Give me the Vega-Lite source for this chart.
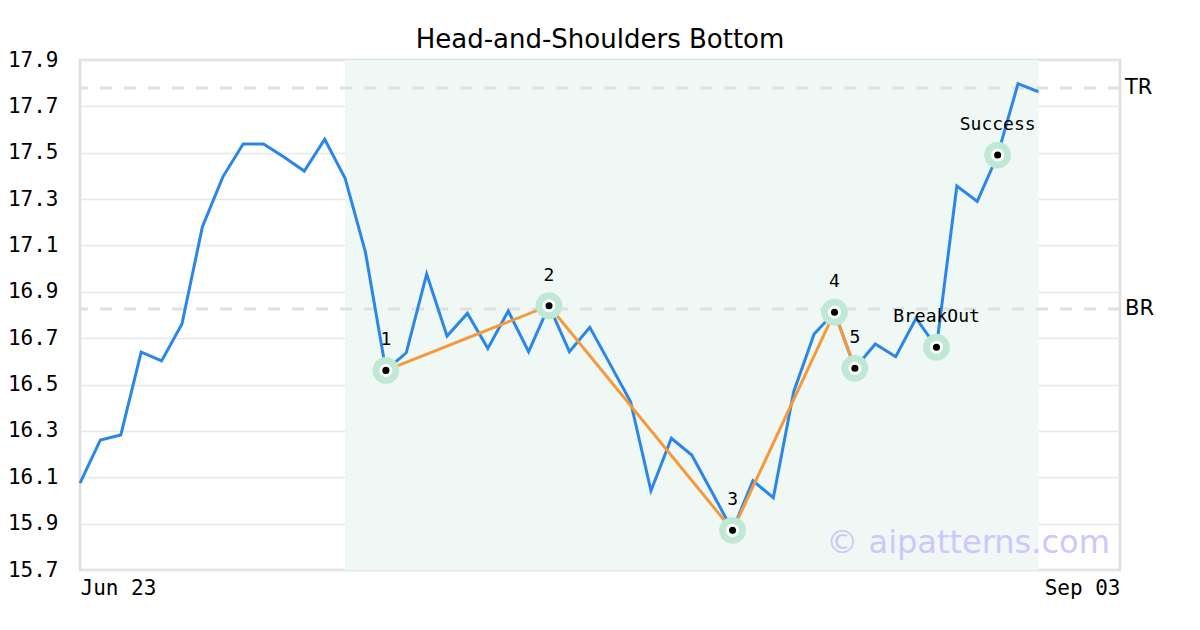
{
  "$schema": "https://vega.github.io/schema/vega-lite/v6.json",
  "width": 1040,
  "height": 510,
  "autosize": "none",
  "padding": {"left": 80, "top": 60, "right": 80, "bottom": 60},
  "background": "white",
  "title": {"text": "Head-and-Shoulders Bottom", "font": "DejaVu Sans", "fontSize": 26, "fontWeight": "normal", "color": "#000000", "anchor": "middle", "frame": "group", "offset": -4},
  "config": {
    "view": {"stroke": "#dddddd", "strokeWidth": 2.5},
    "axis": {"labelFont": "DejaVu Sans Mono", "labelFontSize": 21, "labelColor": "#000000", "domain": false, "ticks": false, "title": null}
  },
  "datasets": {
    "prices": [
      {"i": 0, "close": 16.075}, {"i": 1, "close": 16.261}, {"i": 2, "close": 16.282}, {"i": 3, "close": 16.640},
      {"i": 4, "close": 16.602}, {"i": 5, "close": 16.761}, {"i": 6, "close": 17.180}, {"i": 7, "close": 17.395},
      {"i": 8, "close": 17.538}, {"i": 9, "close": 17.538}, {"i": 10, "close": 17.482}, {"i": 11, "close": 17.421},
      {"i": 12, "close": 17.558}, {"i": 13, "close": 17.390}, {"i": 14, "close": 17.070}, {"i": 15, "close": 16.561},
      {"i": 16, "close": 16.637}, {"i": 17, "close": 16.977}, {"i": 18, "close": 16.709}, {"i": 19, "close": 16.807},
      {"i": 20, "close": 16.656}, {"i": 21, "close": 16.817}, {"i": 22, "close": 16.642}, {"i": 23, "close": 16.840},
      {"i": 24, "close": 16.642}, {"i": 25, "close": 16.747}, {"i": 26, "close": 16.587}, {"i": 27, "close": 16.426},
      {"i": 28, "close": 16.042}, {"i": 29, "close": 16.268}, {"i": 30, "close": 16.196}, {"i": 31, "close": 16.034},
      {"i": 32, "close": 15.871}, {"i": 33, "close": 16.085}, {"i": 34, "close": 16.012}, {"i": 35, "close": 16.469},
      {"i": 36, "close": 16.718}, {"i": 37, "close": 16.812}, {"i": 38, "close": 16.570}, {"i": 39, "close": 16.675},
      {"i": 40, "close": 16.620}, {"i": 41, "close": 16.786}, {"i": 42, "close": 16.661}, {"i": 43, "close": 17.356},
      {"i": 44, "close": 17.290}, {"i": 45, "close": 17.490}, {"i": 46, "close": 17.798}, {"i": 47, "close": 17.763}
    ],
    "pattern": [
      {"i": 15, "v": 16.561, "label": "1", "leg": true},
      {"i": 23, "v": 16.840, "label": "2", "leg": true},
      {"i": 32, "v": 15.871, "label": "3", "leg": true},
      {"i": 37, "v": 16.812, "label": "4", "leg": true},
      {"i": 38, "v": 16.570, "label": "5", "leg": true},
      {"i": 42, "v": 16.661, "label": "BreakOut", "leg": false},
      {"i": 45, "v": 17.490, "label": "Success", "leg": false}
    ],
    "levels": [
      {"name": "TR", "v": 17.779},
      {"name": "BR", "v": 16.826}
    ],
    "zone": [{"start": 13, "end": 47}],
    "mark": [{"i": 50.5, "v": 15.772, "text": "© aipatterns.com"}]
  },
  "layer": [
    {
      "data": {"name": "zone"},
      "mark": {"type": "rect", "color": "#eff8f4"},
      "encoding": {
        "x": {"field": "start", "type": "quantitative", "scale": {"domain": [0, 51], "nice": false, "zero": false},
              "axis": {"values": [0, 51], "labelExpr": "datum.value == 0 ? 'Jun 23' : 'Sep 03'", "labelFlush": true, "labelPadding": 7, "grid": false}},
        "x2": {"field": "end"}
      }
    },
    {
      "data": {"name": "levels"},
      "mark": {"type": "rule", "color": "#e0e0e0", "strokeWidth": 3, "strokeDash": [12, 12]},
      "encoding": {
        "y": {"field": "v", "type": "quantitative", "scale": {"domain": [15.7, 17.9], "nice": false, "zero": false},
              "axis": {"values": [15.7, 15.9, 16.1, 16.3, 16.5, 16.7, 16.9, 17.1, 17.3, 17.5, 17.7, 17.9], "format": ".1f", "labelPadding": 22, "grid": true, "gridColor": "#e8e8e8", "gridWidth": 1.5}}
      }
    },
    {
      "data": {"name": "levels"},
      "mark": {"type": "text", "font": "DejaVu Sans", "fontSize": 21, "align": "left", "baseline": "middle", "dx": 5, "color": "#000000"},
      "encoding": {
        "x": {"datum": 51, "type": "quantitative"},
        "y": {"field": "v", "type": "quantitative"},
        "text": {"field": "name"}
      }
    },
    {
      "data": {"name": "prices"},
      "mark": {"type": "line", "color": "#2a86e8", "strokeWidth": 3},
      "encoding": {
        "x": {"field": "i", "type": "quantitative"},
        "y": {"field": "close", "type": "quantitative"}
      }
    },
    {
      "data": {"name": "pattern"},
      "transform": [{"filter": "datum.leg"}],
      "mark": {"type": "line", "color": "#f7993a", "strokeWidth": 3},
      "encoding": {
        "x": {"field": "i", "type": "quantitative"},
        "y": {"field": "v", "type": "quantitative"}
      }
    },
    {
      "data": {"name": "pattern"},
      "mark": {"type": "circle", "color": "#bfe9d4", "opacity": 1, "size": 720},
      "encoding": {
        "x": {"field": "i", "type": "quantitative"},
        "y": {"field": "v", "type": "quantitative"}
      }
    },
    {
      "data": {"name": "pattern"},
      "mark": {"type": "circle", "color": "#ffffff", "opacity": 1, "size": 170},
      "encoding": {
        "x": {"field": "i", "type": "quantitative"},
        "y": {"field": "v", "type": "quantitative"}
      }
    },
    {
      "data": {"name": "pattern"},
      "mark": {"type": "circle", "color": "#000000", "opacity": 1, "size": 50},
      "encoding": {
        "x": {"field": "i", "type": "quantitative"},
        "y": {"field": "v", "type": "quantitative"}
      }
    },
    {
      "data": {"name": "pattern"},
      "mark": {"type": "text", "font": "DejaVu Sans Mono", "fontSize": 18, "align": "center", "baseline": "middle", "dy": -30, "color": "#000000"},
      "encoding": {
        "x": {"field": "i", "type": "quantitative"},
        "y": {"field": "v", "type": "quantitative"},
        "text": {"field": "label"}
      }
    },
    {
      "data": {"name": "mark"},
      "mark": {"type": "text", "font": "DejaVu Sans", "fontSize": 32, "align": "right", "baseline": "alphabetic", "color": "#c9c9fb"},
      "encoding": {
        "x": {"field": "i", "type": "quantitative"},
        "y": {"field": "v", "type": "quantitative"},
        "text": {"field": "text"}
      }
    }
  ]
}
